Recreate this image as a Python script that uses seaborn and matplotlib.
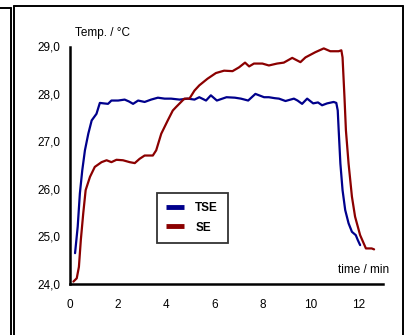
import numpy as np
import pandas as pd
import seaborn as sns
import matplotlib.pyplot as plt
from matplotlib.lines import Line2D
from matplotlib.ticker import FuncFormatter

# TSE curve (time in min, temperature in degC)
t_tse = [0.21, 0.32, 0.41, 0.51, 0.62, 0.76, 0.90, 1.10, 1.24, 1.40, 1.58, 1.72, 2.00, 2.27,
         2.45, 2.62, 2.83, 3.10, 3.37, 3.65, 3.93, 4.20, 4.55, 4.90, 5.17, 5.37, 5.65, 5.85,
         6.10, 6.50, 6.85, 7.10, 7.40, 7.70, 8.06, 8.26, 8.50, 8.68, 8.95, 9.30, 9.45, 9.64,
         9.85, 10.10, 10.30, 10.47, 10.68, 10.95, 11.06, 11.12, 11.16, 11.23, 11.32, 11.43,
         11.57, 11.71, 11.87, 11.95, 12.05]
temp_tse = [24.64, 25.20, 25.90, 26.39, 26.81, 27.16, 27.44, 27.58, 27.81, 27.80, 27.79, 27.86,
            27.86, 27.88, 27.84, 27.79, 27.86, 27.83, 27.88, 27.92, 27.90, 27.90, 27.88, 27.90,
            27.88, 27.93, 27.86, 27.97, 27.86, 27.93, 27.92, 27.90, 27.86, 28.00, 27.93, 27.93,
            27.91, 27.90, 27.85, 27.90, 27.86, 27.79, 27.90, 27.80, 27.82, 27.76, 27.80, 27.83,
            27.81, 27.65, 27.23, 26.53, 25.97, 25.55, 25.27, 25.09, 25.02, 24.92, 24.81]

# SE curve
t_se = [0.14, 0.28, 0.37, 0.45, 0.55, 0.65, 0.83, 1.03, 1.31, 1.52, 1.72, 1.93, 2.20, 2.48,
        2.69, 2.89, 3.10, 3.44, 3.58, 3.79, 4.06, 4.27, 4.40, 4.75, 4.96, 5.17, 5.37, 5.71,
        6.06, 6.40, 6.75, 7.02, 7.27, 7.44, 7.64, 7.99, 8.26, 8.60, 8.88, 9.23, 9.57, 9.78,
        10.19, 10.54, 10.81, 11.16, 11.27, 11.32, 11.40, 11.46, 11.57, 11.71, 11.84, 12.05,
        12.29, 12.53, 12.63]
temp_se = [24.04, 24.11, 24.35, 24.92, 25.48, 25.97, 26.25, 26.46, 26.56, 26.60, 26.56, 26.61,
           26.60, 26.56, 26.54, 26.63, 26.70, 26.70, 26.81, 27.16, 27.44, 27.65, 27.72, 27.90,
           27.90, 28.07, 28.18, 28.32, 28.44, 28.49, 28.48, 28.56, 28.66, 28.58, 28.64, 28.64,
           28.60, 28.64, 28.66, 28.76, 28.67, 28.77, 28.88, 28.96, 28.90, 28.90, 28.92, 28.77,
           27.93, 27.23, 26.53, 25.83, 25.41, 25.02, 24.74, 24.74, 24.72]

series_names = ['TSE', 'SE']
series_colors = ['#00008c', '#8b0000']
x_ticks = [0, 2, 4, 6, 8, 10, 12]
y_ticks = [24, 25, 26, 27, 28, 29]

df = pd.concat([
    pd.DataFrame({'t': t_tse, 'T': temp_tse, 'serie': 'TSE'}),
    pd.DataFrame({'t': t_se, 'T': temp_se, 'serie': 'SE'}),
])

sns.set_style('white')
plt.rcParams['font.family'] = ['Liberation Sans', 'DejaVu Sans']
plt.rcParams['text.color'] = 'black'
plt.rcParams['xtick.color'] = 'black'
plt.rcParams['ytick.color'] = 'black'

fig = plt.figure(figsize=(4.09, 3.35), dpi=100)
ax = fig.add_axes([70 / 409, 1 - 283.5 / 335, 313 / 409, 237 / 335])

sns.lineplot(data=df, x='t', y='T', hue='serie', palette=dict(zip(series_names, series_colors)),
             estimator=None, sort=False, linewidth=1.6, legend=False, ax=ax)

ax.set_xlim(0, 13)
ax.set_ylim(24, 29)
ax.set_xticks(x_ticks)
ax.set_yticks(y_ticks)
ax.yaxis.set_major_formatter(FuncFormatter(lambda v, p: f'{v:.1f}'.replace('.', ',')))
ax.set_xlabel('')
ax.set_ylabel('')
ax.tick_params(direction='in', length=4, width=1.5, labelsize=8.5, color='black', labelcolor='black')
ax.tick_params(axis='x', pad=11)
ax.tick_params(axis='y', pad=7)
for side in ['top', 'right']:
    ax.spines[side].set_visible(False)
for side in ['left', 'bottom']:
    ax.spines[side].set_color('black')
    ax.spines[side].set_linewidth(1.8)

ax.text(0.016, 1.057, 'Temp. / °C', transform=ax.transAxes, fontsize=8.5, va='center', ha='left')
ax.text(1.019, 0.057, 'time / min', transform=ax.transAxes, fontsize=8.5, va='center', ha='right')

handles = [Line2D([], [], color=c, linewidth=3.5, solid_capstyle='butt') for c in series_colors]
leg = ax.legend(handles, series_names, loc='upper left', bbox_to_anchor=(87 / 313, (283.5 - 193) / 237),
                frameon=True, fancybox=False, fontsize=8.5, handlelength=1.45, borderpad=0.8,
                labelspacing=0.6, handletextpad=1.0, borderaxespad=0)
leg.get_frame().set_edgecolor('black')
leg.get_frame().set_linewidth(1.3)
for txt in leg.get_texts():
    txt.set_fontweight('bold')
    txt.set_color('black')

# page frame lines around the chart, in pixel coordinates from the top-left corner
W, H = 409, 335
frame_lines = [
    ([14.5, 14.5], [335, 6]),
    ([14.5, 403], [6, 6]),
    ([403, 403], [6, 335]),
    ([11, 11], [335, 8]),
    ([0, 11], [8, 8]),
]
for xs, ys in frame_lines:
    xx = [x / W for x in xs]
    yy = [1 - y / H for y in ys]
    fig.add_artist(Line2D(xx, yy, color='black', linewidth=1.4, transform=fig.transFigure))

fig.savefig('out.png', dpi=100)
